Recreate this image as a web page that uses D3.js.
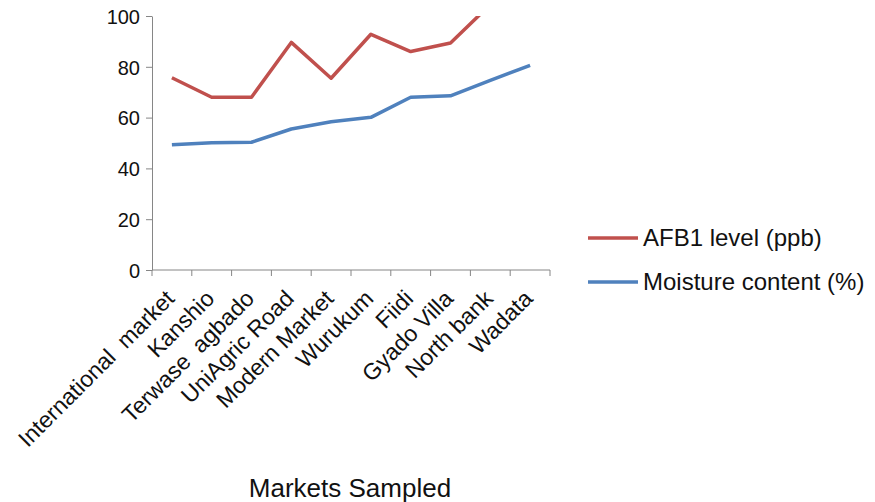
<!DOCTYPE html>
<html>
<head>
<meta charset="utf-8">
<script src="https://cdn.jsdelivr.net/npm/d3@7"></script>
<style>
  body { margin: 0; background: #fff; }
  text { font-family: "Liberation Sans", Arial, sans-serif; fill: #111; }
</style>
</head>
<body>
<div id="chart"></div>
<script>
// data
var markets = ["International  market", "Kanshio", "Terwase  agbado", "UniAgric Road",
    "Modern Market", "Wurukum", "Fiidi", "Gyado Villa", "North bank", "Wadata"];
var afb1 = [75.7, 68, 68, 89.6, 75.5, 92.8, 86, 89.4, 104.5, 110];
var moisture = [49.3, 50.1, 50.3, 55.5, 58.4, 60.1, 68, 68.6, 74.7, 80.6];
var yTicks = [0, 20, 40, 60, 80, 100];

var width = 875, height = 502;
var plotLeft = 152, plotRight = 550, plotTop = 16, plotBottom = 270;

var svg = d3.select("#chart")
    .append("svg")
    .attr("width", width)
    .attr("height", height);

var x = d3.scaleBand()
    .domain(markets)
    .range([plotLeft, plotRight]);

var y = d3.scaleLinear()
    .domain([0, 100])
    .range([plotBottom, plotTop]);

// clip so the red line is cut at 100
svg.append("clipPath")
    .attr("id", "plot-clip")
    .append("rect")
    .attr("x", plotLeft)
    .attr("y", plotTop)
    .attr("width", plotRight - plotLeft + 10)
    .attr("height", plotBottom - plotTop);

//y axis
var yAxis = svg.append("g")
    .attr("transform", "translate(" + plotLeft + ",0)")
    .call(d3.axisLeft(y).tickValues(yTicks).tickSize(6).tickSizeOuter(0));
yAxis.select(".domain").attr("stroke", "#868686");
yAxis.selectAll(".tick line").attr("stroke", "#868686");
yAxis.selectAll(".tick text")
    .attr("x", -12)
    .attr("dy", "0.36em")
    .style("font-size", "20px")
    .style("font-family", "Liberation Sans, Arial, sans-serif")
    .attr("fill", "#111");

//x axis, ticks sit between categories
var xAxis = svg.append("g")
    .attr("transform", "translate(0," + plotBottom + ")");
xAxis.append("line")
    .attr("x1", plotLeft).attr("x2", plotRight)
    .attr("stroke", "#868686");
xAxis.selectAll("line.tk")
    .data(markets.concat(["end"]))
    .enter()
    .append("line")
    .attr("class", "tk")
    .attr("x1", function(d, i) { return plotLeft + i * x.bandwidth(); })
    .attr("x2", function(d, i) { return plotLeft + i * x.bandwidth(); })
    .attr("y1", 0).attr("y2", 6)
    .attr("stroke", "#868686");

xAxis.selectAll("text.lbl")
    .data(markets)
    .enter()
    .append("text")
    .attr("class", "lbl")
    .attr("text-anchor", "end")
    .attr("transform", function(d) {
        return "translate(" + (x(d) + x.bandwidth() / 2 + 4) + ",30) rotate(-45)";
    })
    .style("font-size", "23px")
    .style("white-space", "pre")
    .text(function(d) { return d; });

svg.append("text")
    .attr("x", 350)
    .attr("y", 497)
    .attr("text-anchor", "middle")
    .style("font-size", "26px")
    .text("Markets Sampled");

var line = d3.line()
    .x(function(d, i) { return x(markets[i]) + x.bandwidth() / 2; })
    .y(function(d) { return y(d); });

svg.append("path")
    .datum(moisture)
    .attr("fill", "none")
    .attr("stroke", "#4F81BD")
    .attr("stroke-width", 3.5)
    .attr("stroke-linejoin", "round")
    .attr("d", line);

svg.append("path")
    .datum(afb1)
    .attr("clip-path", "url(#plot-clip)")
    .attr("fill", "none")
    .attr("stroke", "#C0504D")
    .attr("stroke-width", 3.5)
    .attr("stroke-linejoin", "round")
    .attr("d", line);

//legend
var legendItems = [
    { name: "AFB1 level (ppb)", color: "#C0504D" },
    { name: "Moisture content (%)", color: "#4F81BD" }
];
var legend = svg.selectAll("g.legend")
    .data(legendItems)
    .enter()
    .append("g")
    .attr("class", "legend")
    .attr("transform", function(d, i) { return "translate(588," + (238 + i * 44) + ")"; });
legend.append("line")
    .attr("x1", 0).attr("x2", 50)
    .attr("stroke", function(d) { return d.color; })
    .attr("stroke-width", 3.5);
legend.append("text")
    .attr("x", 55)
    .attr("y", 8)
    .style("font-size", "24px")
    .text(function(d) { return d.name; });
</script>
</body>
</html>
